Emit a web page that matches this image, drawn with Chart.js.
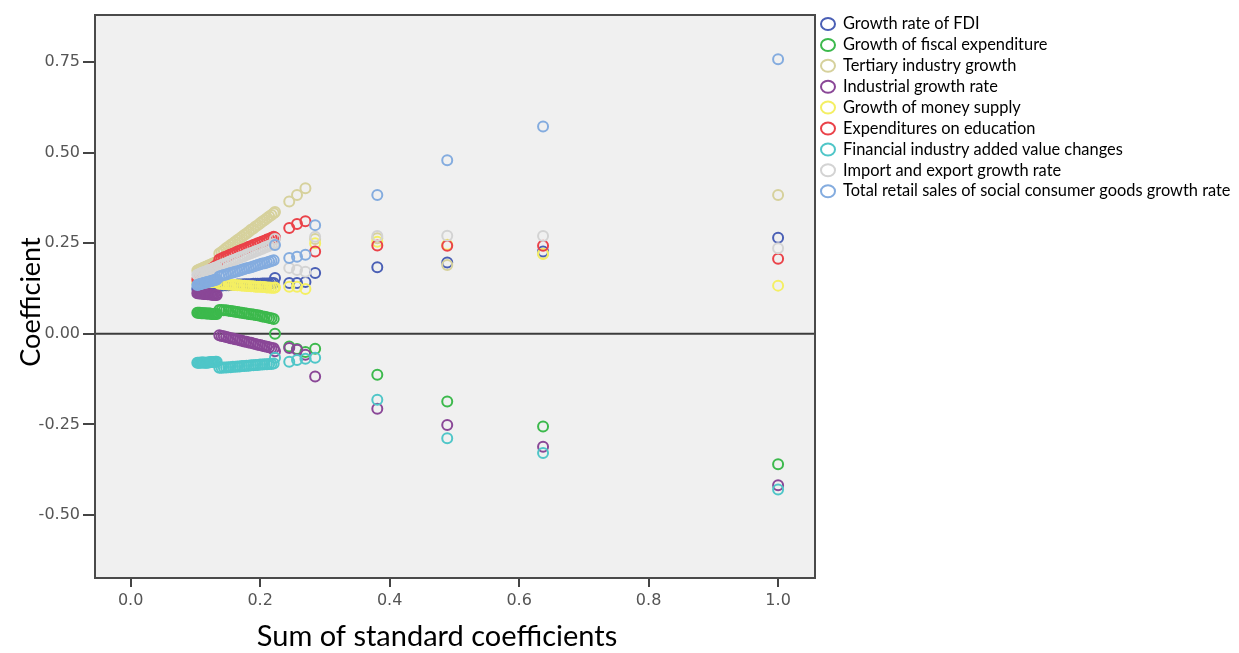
<!DOCTYPE html>
<html>
<head>
<meta charset="utf-8">
<script src="https://cdn.jsdelivr.net/npm/chart.js@4.4.1/dist/chart.umd.min.js"></script>
<style>
  html, body { margin: 0; padding: 0; background: #fff; }
  canvas { display: block; }
</style>
</head>
<body>
<canvas id="chart" width="1239" height="653"></canvas>
<script>
// x: sum of standard coefficients at each step of the path
const sumCoef = [
    0.103, 0.105, 0.107, 0.109, 0.111, 0.113, 0.115, 0.117, 0.119, 0.121, 0.123, 0.125, 0.127, 0.129, 0.131, 0.133,
    0.137, 0.1405, 0.144, 0.1475, 0.151, 0.1545, 0.158, 0.1615, 0.165, 0.1685, 0.172, 0.1755, 0.179, 0.1825, 0.186, 0.1895, 0.193, 0.1965, 0.200, 0.2035, 0.207, 0.2105, 0.214, 0.2175, 0.221,
    0.223, 0.245, 0.257, 0.270, 0.285, 0.381, 0.489, 0.637, 1.000]

const fdi = [
    0.124, 0.125, 0.125, 0.126, 0.126, 0.127, 0.127, 0.128, 0.128, 0.129, 0.129, 0.130, 0.130, 0.131, 0.131, 0.132,
    0.133, 0.133, 0.134, 0.134, 0.134, 0.135, 0.135, 0.135, 0.136, 0.136, 0.136, 0.137, 0.137, 0.137, 0.137, 0.138, 0.138, 0.138, 0.138, 0.139, 0.139, 0.139, 0.139, 0.140, 0.140,
    0.154, 0.140, 0.140, 0.143, 0.168, 0.184, 0.197, 0.227, 0.265]
const fiscal = [
    0.058, 0.058, 0.058, 0.057, 0.057, 0.057, 0.057, 0.056, 0.056, 0.056, 0.056, 0.055, 0.055, 0.055, 0.055, 0.055,
    0.066, 0.066, 0.065, 0.065, 0.064, 0.063, 0.062, 0.061, 0.060, 0.059, 0.058, 0.057, 0.056, 0.055, 0.054, 0.053, 0.052, 0.051, 0.050, 0.048, 0.047, 0.046, 0.044, 0.043, 0.041,
    0.000, -0.035, -0.042, -0.050, -0.041, -0.113, -0.187, -0.256, -0.360]
const tertiary = [
    0.175, 0.176, 0.178, 0.179, 0.181, 0.183, 0.184, 0.186, 0.187, 0.189, 0.190, 0.192, 0.194, 0.195, 0.197, 0.199,
    0.222, 0.226, 0.231, 0.236, 0.240, 0.245, 0.249, 0.254, 0.259, 0.263, 0.268, 0.273, 0.277, 0.282, 0.287, 0.291, 0.296, 0.300, 0.305, 0.310, 0.314, 0.319, 0.324, 0.328, 0.333,
    0.336, 0.365, 0.383, 0.402, 0.262, 0.264, 0.190, 0.222, 0.383]
const industrial = [
    0.112, 0.112, 0.111, 0.111, 0.111, 0.110, 0.110, 0.110, 0.109, 0.109, 0.109, 0.108, 0.108, 0.108, 0.107, 0.107,
    -0.004, -0.006, -0.007, -0.009, -0.010, -0.012, -0.013, -0.015, -0.016, -0.018, -0.019, -0.021, -0.022, -0.024, -0.025, -0.027, -0.028, -0.030, -0.031, -0.033, -0.034, -0.036, -0.037, -0.039, -0.040,
    -0.048, -0.039, -0.044, -0.058, -0.118, -0.207, -0.252, -0.312, -0.418]
const money = [
    0.140, 0.140, 0.141, 0.141, 0.141, 0.142, 0.142, 0.142, 0.142, 0.143, 0.143, 0.143, 0.143, 0.144, 0.144, 0.144,
    0.138, 0.138, 0.137, 0.137, 0.136, 0.136, 0.135, 0.135, 0.134, 0.134, 0.133, 0.133, 0.132, 0.132, 0.131, 0.131, 0.130, 0.130, 0.130, 0.129, 0.129, 0.128, 0.128, 0.127, 0.127,
    0.128, 0.130, 0.130, 0.124, 0.250, 0.254, 0.246, 0.220, 0.133]
const education = [
    0.150, 0.153, 0.155, 0.158, 0.160, 0.163, 0.166, 0.168, 0.171, 0.174, 0.176, 0.179, 0.182, 0.184, 0.187, 0.190,
    0.205, 0.208, 0.211, 0.213, 0.216, 0.219, 0.221, 0.224, 0.227, 0.229, 0.232, 0.234, 0.237, 0.240, 0.242, 0.245, 0.247, 0.250, 0.252, 0.255, 0.257, 0.260, 0.262, 0.265, 0.268,
    0.266, 0.292, 0.303, 0.311, 0.227, 0.244, 0.243, 0.243, 0.207]
const financial = [
    -0.080, -0.080, -0.080, -0.079, -0.079, -0.079, -0.080, -0.080, -0.079, -0.079, -0.078, -0.078, -0.078, -0.078, -0.077, -0.077,
    -0.094, -0.094, -0.093, -0.093, -0.092, -0.092, -0.091, -0.091, -0.090, -0.090, -0.089, -0.089, -0.088, -0.088, -0.087, -0.087, -0.086, -0.086, -0.085, -0.085, -0.084, -0.084, -0.083, -0.083, -0.082,
    -0.066, -0.077, -0.072, -0.069, -0.066, -0.182, -0.288, -0.329, -0.430]
const trade = [
    0.163, 0.164, 0.166, 0.167, 0.169, 0.170, 0.171, 0.173, 0.174, 0.176, 0.177, 0.178, 0.180, 0.181, 0.183, 0.184,
    0.188, 0.190, 0.193, 0.195, 0.198, 0.200, 0.203, 0.205, 0.208, 0.210, 0.213, 0.215, 0.218, 0.220, 0.223, 0.225, 0.228, 0.230, 0.233, 0.235, 0.238, 0.240, 0.243, 0.245, 0.248,
    0.262, 0.182, 0.176, 0.171, 0.268, 0.270, 0.271, 0.270, 0.236]
const retail = [
    0.135, 0.136, 0.137, 0.138, 0.139, 0.140, 0.141, 0.142, 0.143, 0.144, 0.145, 0.146, 0.147, 0.148, 0.149, 0.150,
    0.158, 0.160, 0.162, 0.164, 0.166, 0.168, 0.169, 0.171, 0.173, 0.175, 0.177, 0.179, 0.181, 0.182, 0.184, 0.186, 0.188, 0.190, 0.192, 0.194, 0.195, 0.197, 0.199, 0.201, 0.203,
    0.245, 0.209, 0.213, 0.218, 0.300, 0.383, 0.479, 0.572, 0.758]

const seriesNames = [
    'Growth rate of FDI',
    'Growth of fiscal expenditure',
    'Tertiary industry growth',
    'Industrial growth rate',
    'Growth of money supply',
    'Expenditures on education',
    'Financial industry added value changes',
    'Import and export growth rate',
    'Total retail sales of social consumer goods growth rate'
]
const seriesValues = [fdi, fiscal, tertiary, industrial, money, education, financial, trade, retail]
const seriesColors = ['#4a5fb5', '#3cb94c', '#d6d19c', '#8a4797', '#f4ef63', '#ea4249', '#4fc6c8', '#d3d3d3', '#84acdf']

const xTicks = [0, 0.2, 0.4, 0.6, 0.8, 1.0]
const yTicks = [-0.5, -0.25, 0, 0.25, 0.5, 0.75]

// later series are painted on top, like the original
const datasets = seriesNames.map((name, i) => ({
    label: name,
    data: sumCoef.map((x, j) => ({ x: x, y: seriesValues[i][j] })),
    borderColor: seriesColors[i],
    backgroundColor: 'rgba(0,0,0,0)',
    pointStyle: 'circle',
    pointRadius: 5,
    borderWidth: 2,
    showLine: false,
    order: seriesNames.length - i
}))

const frame = {
    id: 'frame',
    beforeDraw(chart) {
        const { ctx, chartArea: a } = chart
        ctx.save()
        ctx.fillStyle = '#f0f0f0'
        ctx.fillRect(a.left, a.top, a.right - a.left, a.bottom - a.top)
        ctx.restore()
    },
    beforeDatasetsDraw(chart) {
        const { ctx, chartArea: a } = chart
        const y0 = chart.scales.y.getPixelForValue(0)
        ctx.save()
        ctx.strokeStyle = '#3c3c3c'
        ctx.lineWidth = 2
        ctx.beginPath()
        ctx.moveTo(a.left, y0)
        ctx.lineTo(a.right, y0)
        ctx.stroke()
        ctx.strokeStyle = '#4a4a4a'
        ctx.strokeRect(a.left, a.top, a.right - a.left, a.bottom - a.top)
        ctx.restore()
    },
    afterDraw(chart) {
        const { ctx } = chart
        ctx.save()
        // axis titles
        ctx.fillStyle = '#000'
        ctx.font = '29px Lato'
        ctx.textAlign = 'center'
        ctx.textBaseline = 'alphabetic'
        ctx.fillText('Sum of standard coefficients', 437, 646)
        ctx.font = '27px Lato'
        ctx.translate(40, 302)
        ctx.rotate(-Math.PI / 2)
        ctx.fillText('Coefficient', 0, 0)
        ctx.restore()

        // legend
        ctx.save()
        ctx.font = '16.4px Lato'
        ctx.textAlign = 'left'
        ctx.textBaseline = 'middle'
        chart.data.datasets.forEach((ds, i) => {
            const y = 24 + i * 20.9
            ctx.strokeStyle = ds.borderColor
            ctx.lineWidth = 2
            ctx.beginPath()
            ctx.ellipse(828, y, 7, 6, 0, 0, Math.PI * 2)
            ctx.stroke()
            ctx.fillStyle = '#000'
            ctx.fillText(ds.label, 843, y)
        })
        ctx.restore()
    }
}

const tickFont = { family: 'DejaVu Sans', size: 16 }

new Chart(document.getElementById('chart'), {
    type: 'scatter',
    data: { datasets: datasets },
    options: {
        responsive: false,
        animation: false,
        layout: { padding: { top: 15, right: 424, left: 0, bottom: 0 } },
        plugins: { legend: { display: false }, tooltip: { enabled: false } },
        scales: {
            x: {
                type: 'linear',
                min: -0.055,
                max: 1.057,
                afterFit(s) { s.height = 75 },
                afterBuildTicks(s) { s.ticks = xTicks.map(v => ({ value: v })) },
                border: { display: false },
                grid: { drawOnChartArea: false, drawTicks: true, tickLength: 9, tickColor: '#444', lineWidth: 2 },
                ticks: { color: '#555', font: tickFont, padding: 4, callback: v => v.toFixed(1) }
            },
            y: {
                type: 'linear',
                min: -0.674,
                max: 0.880,
                afterFit(s) { s.width = 95 },
                afterBuildTicks(s) { s.ticks = yTicks.map(v => ({ value: v })) },
                border: { display: false },
                grid: { drawOnChartArea: false, drawTicks: true, tickLength: 12, tickColor: '#444', lineWidth: 2 },
                ticks: { color: '#555', font: tickFont, padding: 3, callback: v => v.toFixed(2) }
            }
        }
    },
    plugins: [frame]
})
</script>
</body>
</html>
